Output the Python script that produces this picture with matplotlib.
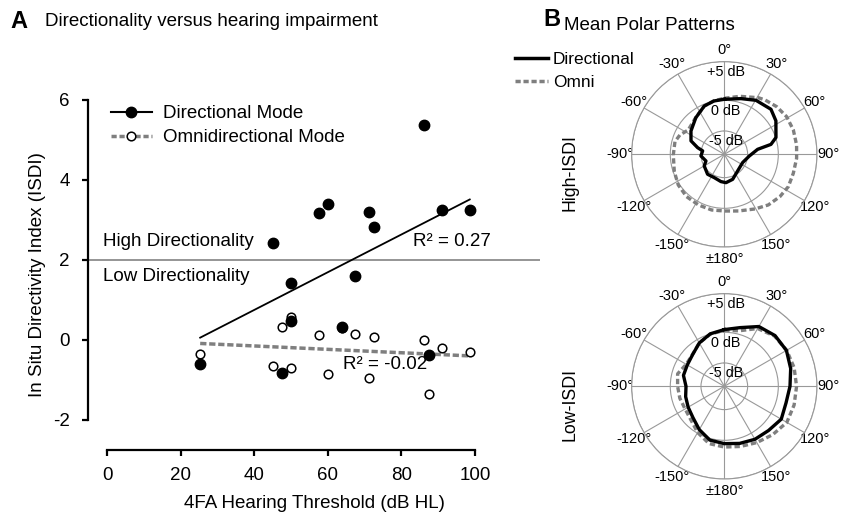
import numpy as np
import matplotlib
matplotlib.use('Agg')
import matplotlib.pyplot as plt
from matplotlib.lines import Line2D

plt.rcParams['font.family'] = ['Liberation Sans', 'DejaVu Sans']
plt.rcParams['axes.unicode_minus'] = False

# ---- panel A data: one entry per listener ----
threshold = [25.3, 45.1, 47.6, 50.1, 50.1, 57.6, 60.0, 63.9, 67.5, 71.3, 72.6, 86.2, 87.4, 91.1, 98.6]
isdi_dir = [-0.60, 2.43, -0.82, 1.42, 0.48, 3.18, 3.40, 0.32, 1.59, 3.19, 2.82, 5.38, -0.37, 3.25, 3.25]
isdi_omni = [-0.35, -0.66, 0.33, 0.57, -0.71, 0.12, -0.85, 0.30, 0.14, -0.94, 0.07, 0.01, -1.35, -0.21, -0.29]
r2_dir = 'R² = 0.27'
r2_omni = 'R² = -0.02'

# ---- panel B data: mean polar patterns (angle in deg, level in dB) ----
hi_dir_ang = [0, 16.7, 30.4, 46, 57, 72, 78, 81.5, 94, 114, 141, 161.6, 176.6, 187,
              203, 220, 240, 250, 266, 279, 284, 292, 305, 322, 337.5, 349]
hi_dir_db = [0.13, 0.53, 1.11, 1.40, 0.97, 0.04, -1.03, -3.31, -4.72, -5.52, -5.33, -4.50, -4.17, -4.32,
             -4.66, -4.56, -5.02, -5.62, -4.98, -5.23, -4.32, -2.95, -2.17, -1.25, -0.28, 0.04]
hi_omni_ang = [0, 15, 31, 36.8, 47.7, 58.9, 70.6, 82.6, 93.2, 105.4, 116.8, 127.3, 139, 150.7,
               166, 179.3, 192.8, 207, 221.7, 236.3, 250.9, 269.3, 284.4, 293.6, 304, 322, 337.5, 349]
hi_omni_db = [0.26, 0.78, 1.55, 1.80, 2.17, 2.43, 2.48, 2.44, 2.38, 2.27, 2.29, 2.05, 1.69, 1.12,
              0.57, 0.35, 0.40, 0.37, 0.35, 0.17, -0.18, -0.49, -0.50, -0.91, -1.71, -1.22, -0.28, 0.06]
lo_ang = [0, 15, 30, 45, 60, 75, 90, 105, 120, 135, 150, 165,
          180, 195, 210, 225, 240, 255, 270, 285, 300, 315, 330, 345]
lo_dir_db = [0.35, 0.87, 1.94, 2.29, 2.29, 1.90, 1.51, 1.28, 1.52, 1.10, 0.93, 0.66,
             0.43, 0.22, -0.65, -1.58, -2.00, -2.28, -2.56, -1.91, -1.84, -1.50, -0.65, 0.04]
lo_omni_db = [0.26, 0.45, 1.64, 2.20, 2.33, 2.36, 2.36, 2.36, 2.35, 1.86, 1.42, 1.07,
              0.87, 0.68, -0.11, -1.09, -1.42, -1.30, -1.19, -0.93, -1.63, -1.47, -0.65, 0.00]

angle_labels = ['0°', '30°', '60°', '90°', '120°', '150°', '±180°',
                '-150°', '-120°', '-90°', '-60°', '-30°']
ring_db = [-5, 0, 5]
ring_labels = ['-5 dB', '0 dB', '+5 dB']

# radial scale of the polar plots is not linear in dB
DB_KNOTS = [-60, -5, 0, 5, 60]
PX_KNOTS = [23.3 - 55 * 6.14, 23.3, 54.0, 92.7, 92.7 + 55 * 7.74]


def fwd(v):
    return np.interp(v, DB_KNOTS, PX_KNOTS)


def inv(r):
    return np.interp(r, PX_KNOTS, DB_KNOTS)


fig = plt.figure(figsize=(8.43, 5.19), dpi=100)

# ================= panel A =================
ax = fig.add_axes([88 / 843, 1 - 450 / 519, 452 / 843, 350 / 519])
ax.axhline(2, color='#8c8c8c', lw=1.3, zorder=1)

x = np.array(threshold)
fit_x = np.array([x.min(), x.max()])
p_dir = np.polyfit(x, isdi_dir, 1)
p_omni = np.polyfit(x, isdi_omni, 1)
ax.plot(fit_x, np.polyval(p_dir, fit_x), color='black', lw=1.3, zorder=2)
ax.plot(fit_x, np.polyval(p_omni, fit_x), color='#7f7f7f', lw=2.5,
        dashes=(1.8, 0.8), zorder=2)

ax.plot(x, isdi_omni, 'o', ms=6.2, mfc='white', mec='black', mew=1.1, zorder=3)
ax.plot(x, isdi_dir, 'o', ms=7.5, mfc='black', mec='black', zorder=4)

ax.text(-1.1, 2.45, 'High Directionality', fontsize=13.5, va='center', ha='left')
ax.text(-1.1, 1.58, 'Low Directionality', fontsize=13.5, va='center', ha='left')
ax.text(83.2, 2.45, r2_dir, fontsize=13.5, va='center', ha='left')
ax.text(64.1, -0.62, r2_omni, fontsize=13.5, va='center', ha='left')

ax.set_xlim(-5.2, 117.7)
ax.set_ylim(-2.75, 6)
ax.set_xticks([0, 20, 40, 60, 80, 100])
ax.set_yticks([-2, 0, 2, 4, 6])
for s in ['top', 'right']:
    ax.spines[s].set_visible(False)
ax.spines['left'].set_bounds(-2, 6)
ax.spines['bottom'].set_bounds(0, 100)
for s in ['left', 'bottom']:
    ax.spines[s].set_linewidth(1.6)
ax.tick_params(axis='both', width=1.6, length=4, labelsize=13.5)
ax.tick_params(axis='y', pad=9)
ax.tick_params(axis='x', pad=8)
ax.set_xlabel('4FA Hearing Threshold (dB HL)', fontsize=13.5, labelpad=8)
ax.set_ylabel('In Situ Directivity Index (ISDI)', fontsize=13.5, labelpad=5)

handles = [Line2D([], [], color='black', lw=1.5, marker='o', ms=7.5, mfc='black'),
           Line2D([], [], color='#7f7f7f', lw=2.5, dashes=(1.5, 0.8), marker='o',
                  ms=6.2, mfc='white', mec='black', mew=1.1)]
ax.legend(handles, ['Directional Mode', 'Omnidirectional Mode'], loc='upper left',
          bbox_to_anchor=(0.05, 0.985), frameon=False, fontsize=13.5, handlelength=2.2,
          handletextpad=0.6, labelspacing=0.35, borderpad=0, borderaxespad=0)

fig.text(10 / 843, 1 - 22 / 519, 'A', fontsize=17, fontweight='bold', va='center')
fig.text(45 / 843, 1 - 22 / 519, 'Directionality versus hearing impairment',
         fontsize=13.5, va='center')

# ================= panel B =================
fig.text(543 / 843, 1 - 20 / 519, 'B', fontsize=17, fontweight='bold', va='center')
fig.text(564 / 843, 1 - 25 / 519, 'Mean Polar Patterns', fontsize=13.5, va='center')

leg_handles = [Line2D([], [], color='black', lw=2.5),
               Line2D([], [], color='#7f7f7f', lw=2.5, dashes=(1.5, 0.8))]
fig.legend(leg_handles, ['Directional', 'Omni'], loc='upper left',
           bbox_to_anchor=(515 / 843, 1 - 52 / 519), frameon=False, fontsize=12.4,
           handlelength=1.9, handletextpad=0.3, labelspacing=0.45, borderpad=0,
           borderaxespad=0)


def polar_panel(cy, ang_d, db_d, ang_o, db_o, label):
    pax = fig.add_axes([631.6 / 843, 1 - (cy + 92.7) / 519, 185.4 / 843, 185.4 / 519],
                       projection='polar')
    pax.set_rscale('function', functions=(fwd, inv))
    pax.set_theta_zero_location('N')
    pax.set_theta_direction(-1)
    pax.set_rlim(-8.8, 5)
    pax.set_thetagrids(np.arange(0, 360, 30), labels=angle_labels, fontsize=10.5)
    pax.set_rgrids(ring_db, labels=['', '', ''])
    pax.grid(color='#999999', lw=0.8)
    pax.spines['polar'].set_color('#999999')
    pax.spines['polar'].set_linewidth(0.8)
    pax.tick_params(axis='x', pad=-2)

    ao = np.deg2rad(np.r_[ang_o, ang_o[0]])
    pax.plot(ao, np.r_[db_o, db_o[0]], color='#7f7f7f', lw=2.4, dashes=(1.6, 0.9))
    ad = np.deg2rad(np.r_[ang_d, ang_d[0]])
    pax.plot(ad, np.r_[db_d, db_d[0]], color='black', lw=2.4)

    for lvl, txt in zip(ring_db, ring_labels):
        pax.annotate(txt, xy=(0, lvl), xytext=(1, -7.5), textcoords='offset points',
                     ha='center', va='center', fontsize=10.4)
    fig.text(570 / 843, 1 - (cy + 18) / 519, label, rotation=90, fontsize=12.8,
             ha='center', va='center')


polar_panel(154.3, hi_dir_ang, hi_dir_db, hi_omni_ang, hi_omni_db, 'High-ISDI')
polar_panel(386.3, lo_ang, lo_dir_db, lo_ang, lo_omni_db, 'Low-ISDI')

fig.savefig('out.png', dpi=100)
